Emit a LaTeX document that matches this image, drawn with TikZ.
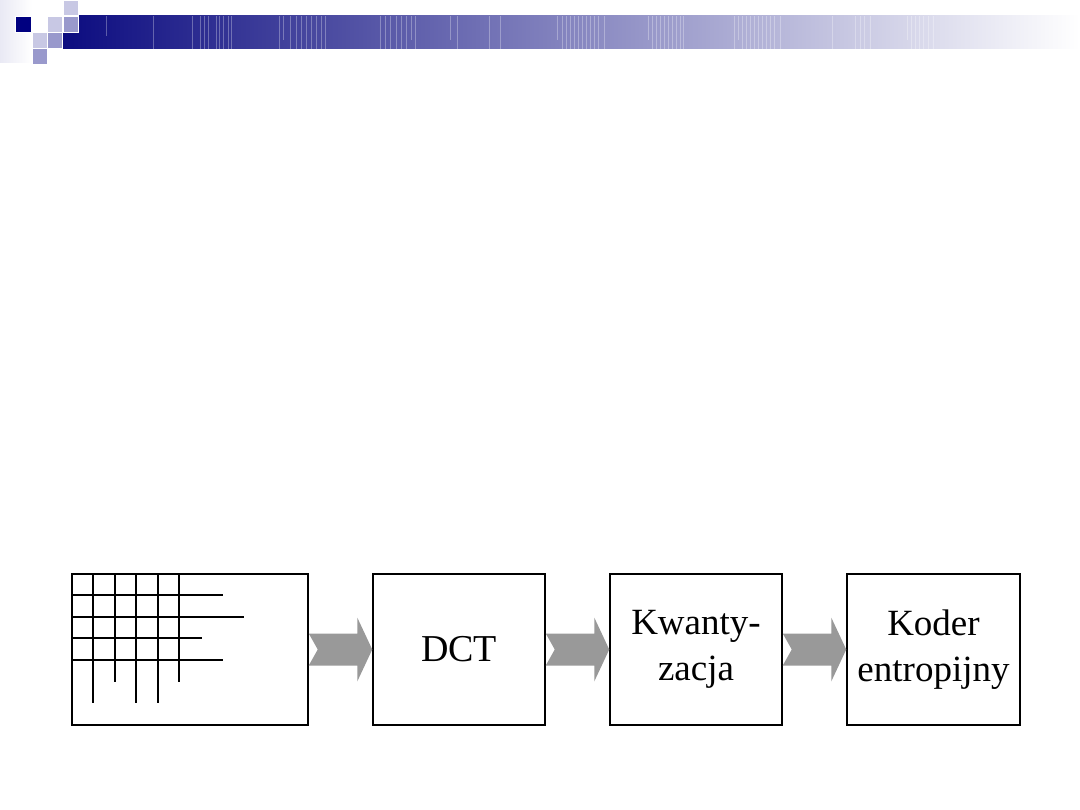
\documentclass[tikz,border=0pt]{standalone}
\usepackage{fontspec}
\setmainfont{Liberation Serif}
\usetikzlibrary{calc}
\definecolor{navy}{RGB}{0,0,128}
\definecolor{bandstart}{RGB}{12,12,128}
\definecolor{sqlight}{RGB}{200,200,228}
\definecolor{sqmed}{RGB}{153,153,204}
\definecolor{arrowgray}{RGB}{153,153,153}
\tikzset{
  stage/.style={draw=black, line width=1.5pt, minimum height=151pt, align=center, inner sep=0pt,
    font=\fontsize{37}{46}\selectfont},
  gridline/.style={line width=2pt, line cap=butt},
  fatarrow/.style={fill=arrowgray, draw=none},
  sq/.style={draw=white, line width=0.8pt},
  deco/.style={white, opacity=0.3, line width=0.7pt}
}
\begin{document}
\begin{tikzpicture}[x=1pt,y=-1pt]
\useasboundingbox (0,0) rectangle (1080,810);
\fill[white] (0,0) rectangle (1080,810);
% header
\shade[left color=sqlight!40, right color=white] (0,0) rectangle (32,63);
\shade[left color=bandstart, right color=white] (63,16) rectangle (1080,49);
\foreach \x/\y in {106/36, 153/49, 192/49, 200/49, 204/49, 208/49, 216/49, 219/49, 223/49, 228/49, 231/49,
  279/49, 283/40, 290/49, 296/49, 301/49, 306/49, 311/49, 316/49, 321/49, 325/49,
  380/49, 385/49, 390/49, 396/49, 401/49, 406/49, 411/40, 415/49, 450/40, 457/49, 489/49, 500/49,
  557/40, 562/49, 566/49, 570/49, 574/49, 578/49, 582/49, 586/49, 590/49, 594/49, 598/49, 604/49,
  648/40, 652/49, 656/49, 660/49, 664/49, 668/49, 672/49, 676/49, 680/49, 683/49,
  734/49, 738/40, 742/49, 746/49, 750/49, 754/49, 758/49, 762/49, 766/49, 770/49, 774/49, 780/49,
  832/49, 855/49, 860/49, 864/49, 870/49, 907/40, 911/49, 915/49, 919/49, 923/49, 928/49, 933/49}
  \draw[deco] (\x,16) -- (\x,\y);
\fill[sq, fill=navy] (15,16) rectangle (31,32);
\fill[sq, fill=sqlight] (63,0) rectangle (78,15);
\fill[sq, fill=sqlight] (47,16) rectangle (62,32);
\fill[sq, fill=sqmed] (63,16) rectangle (78,32);
\fill[sq, fill=sqlight] (32,32) rectangle (47,48);
\fill[sq, fill=sqmed] (47,32) rectangle (62,48);
\fill[sq, fill=sqmed] (32,48) rectangle (47,64);
% stages
\node[stage, minimum width=236pt] (b1) at (190,649.5) {};
\node[stage, minimum width=172pt, font=\fontsize{38}{46}\selectfont] (b2) at (459,649.5) {DCT};
\node[stage, minimum width=172pt] (b3) at (696,649.5) {Kwanty-\\zacja};
\node[stage, minimum width=173pt] (b4) at (933.5,649.5) {Koder\\entropijny};
% grid in first box
\foreach \y/\xe in {595/223, 617/244, 638/202, 660/223}
  \draw[gridline] (b1.west |- 0,\y) -- (\xe,\y);
\foreach \x/\ye in {93/703, 115/682, 136/703, 158/703, 179/682}
  \draw[gridline] (\x,0 |- b1.north) -- (\x,\ye);
% arrows
\foreach \a/\b in {b1/b2, b2/b3, b3/b4}
  \fill[fatarrow] ($(\a.east)+(0,-16)$) -- ($(\b.west)+(-15,-16)$) -- ($(\b.west)+(-15,-32)$)
    -- (\b.west) -- ($(\b.west)+(-15,32)$) -- ($(\b.west)+(-15,16)$) -- ($(\a.east)+(0,16)$)
    -- ($(\a.east)+(9,0)$) -- cycle;
\end{tikzpicture}
\end{document}
